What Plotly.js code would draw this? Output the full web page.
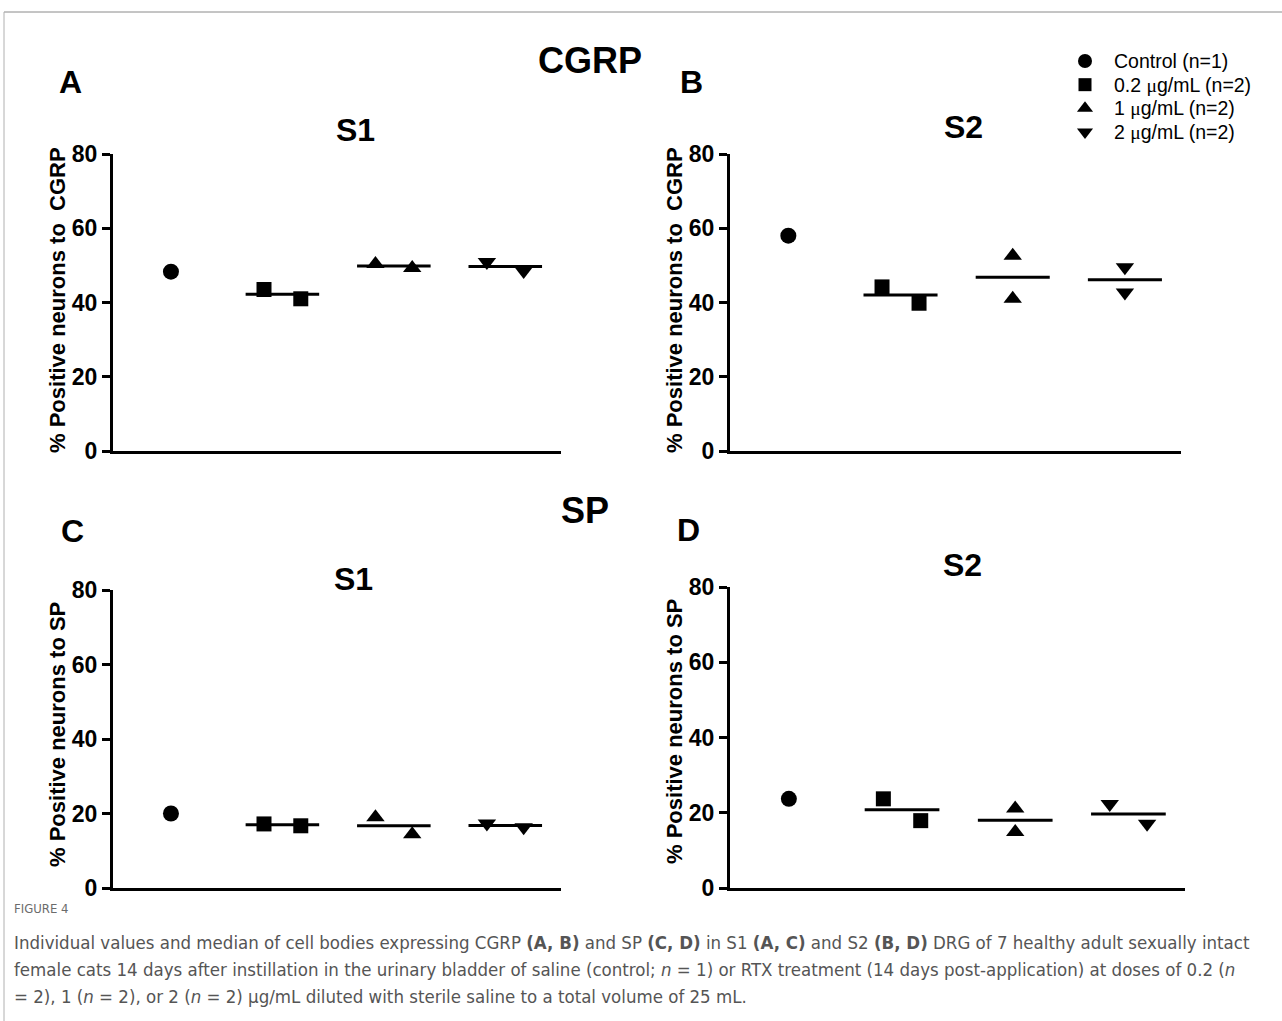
<!DOCTYPE html>
<html>
<head>
<meta charset="utf-8">
<script src="https://cdn.plot.ly/plotly-3.0.1.min.js"></script>
<style>
html,body{margin:0;padding:0;background:#fff;}
#chart{width:1282px;height:1021px;}
</style>
</head>
<body>
<div id="chart"></div>
<script>
// ---- data ----
const groupNames = ['Control (n=1)', '0.2 μg/mL (n=2)', '1 μg/mL (n=2)', '2 μg/mL (n=2)'];
const groupSymbols = ['circle', 'square', 'triangle-up', 'triangle-down'];
const yTicks = [0, 20, 40, 60, 80];
// values per group for each panel
const cgrpS1 = [[48.3], [43.5, 41.0], [50.4, 49.3], [50.9, 48.5]];
const cgrpS2 = [[58.0], [44.2, 39.8], [52.6, 41.0], [49.5, 42.7]];
const spS1   = [[20.0], [17.2, 16.7], [19.0, 14.4], [17.3, 16.3]];
const spS2   = [[23.7], [23.7, 17.9], [21.1, 14.9], [22.3, 17.1]];

const W = 1282, H = 1021;
const px = x => x / W;
const py = y => 1 - y / H;
const FONT = 'Liberation Sans, Arial, sans-serif';
const MU = '<span style="font-family:Liberation Serif">μ</span>';
const markerSizes = [16, 15, 16, 16];

const panels = [
  {vals: cgrpS1, xa: 'x',  ya: 'y',  dx: [113, 561], dy: [451, 154]},
  {vals: cgrpS2, xa: 'x2', ya: 'y2', dx: [730, 1181], dy: [451, 154]},
  {vals: spS1,   xa: 'x3', ya: 'y3', dx: [113, 561], dy: [888, 590]},
  {vals: spS2,   xa: 'x4', ya: 'y4', dx: [730, 1185], dy: [888, 587]}
];

function median(a) {
  const s = a.slice().sort((p, q) => p - q);
  const m = Math.floor(s.length / 2);
  return s.length % 2 ? s[m] : (s[m - 1] + s[m]) / 2;
}
// points that would overlap vertically are spread sideways (scatter-dot style)
function offsets(v) {
  if (v.length < 2) return [0];
  return Math.abs(v[0] - v[1]) < 6 ? [-0.165, 0.165] : [0, 0];
}

const traces = [];
panels.forEach((p, pi) => {
  p.vals.forEach((v, gi) => {
    const off = offsets(v);
    traces.push({
      type: 'scatter', mode: 'markers',
      x: v.map((_, k) => gi + off[k]), y: v,
      xaxis: p.xa, yaxis: p.ya, showlegend: false,
      marker: {symbol: groupSymbols[gi], color: '#000', size: markerSizes[gi], line: {width: 0}},
      hoverinfo: 'y', cliponaxis: false
    });
    if (v.length > 1) {
      const m = median(v);
      traces.push({
        type: 'scatter', mode: 'lines',
        x: [gi - 0.33, gi + 0.33], y: [m, m],
        xaxis: p.xa, yaxis: p.ya, showlegend: false,
        line: {color: '#000', width: 3}, hoverinfo: 'skip'
      });
    }
  });
});
// key (legend) symbols on a hidden axis pair
groupNames.forEach((n, i) => traces.push({
  type: 'scatter', mode: 'markers',
  x: [0], y: [i],
  xaxis: 'x5', yaxis: 'y5', showlegend: false, hoverinfo: 'skip', cliponaxis: false,
  marker: {symbol: groupSymbols[i], color: '#000', opacity: 1, size: i === 1 ? 13 : 14, line: {width: 0}}
}));

const layout = {
  width: W, height: H,
  margin: {l: 0, r: 0, t: 0, b: 0},
  paper_bgcolor: '#fff', plot_bgcolor: 'rgba(0,0,0,0)',
  font: {family: FONT, color: '#000'},
  showlegend: false,
  annotations: [],
  xaxis5: {domain: [px(1085), px(1185)], range: [0, 1], visible: false, fixedrange: true, anchor: 'y5'},
  yaxis5: {domain: [py(132), py(61)], range: [3, 0], visible: false, fixedrange: true, anchor: 'x5'},
  shapes: [
    {type: 'line', xref: 'paper', yref: 'paper', x0: px(4), x1: 1, y0: py(12), y1: py(12), line: {color: '#8a8a8a', width: 1}},
    {type: 'line', xref: 'paper', yref: 'paper', x0: px(4), x1: px(4), y0: py(12), y1: 0, line: {color: '#b0b0b0', width: 1}}
  ]
};

panels.forEach((p, pi) => {
  const s = pi === 0 ? '' : String(pi + 1);
  layout['xaxis' + s] = {
    domain: [px(p.dx[0]), px(p.dx[1])], anchor: 'y' + s,
    range: [-0.52, 3.5], showline: true, linewidth: 3, linecolor: '#000',
    showticklabels: false, ticks: '', showgrid: false, zeroline: false, fixedrange: true
  };
  layout['yaxis' + s] = {
    domain: [py(p.dy[0]), py(p.dy[1])], anchor: 'x' + s,
    range: [0, 80], tickvals: yTicks, ticktext: yTicks.map(String),
    ticks: 'outside', ticklen: 8, tickwidth: 3, tickcolor: '#000',
    showline: true, linewidth: 3, linecolor: '#000',
    showgrid: false, zeroline: false, fixedrange: true,
    tickfont: {family: FONT, size: 23, weight: 'bold', color: '#000'}
  };
});

function ann(text, x, y, size, opts) {
  layout.annotations.push(Object.assign({
    text: text, xref: 'paper', yref: 'paper', x: px(x), y: py(y),
    xanchor: 'center', yanchor: 'middle', showarrow: false,
    font: {family: FONT, size: size, weight: 'bold', color: '#000'}
  }, opts || {}));
}
// key labels
groupNames.forEach((n, i) => ann(n.replace('μ', MU), 1112, 61 + 23.7 * i, 19.5,
  {xanchor: 'left', font: {family: FONT, size: 19.5, color: '#000'}}));
// main titles
ann('CGRP', 590, 61, 36);
ann('SP', 585, 510, 36);
// panel letters
ann('A', 70, 82, 32);
ann('B', 691, 82, 32);
ann('C', 72, 531, 32);
ann('D', 688, 530, 32);
// subplot titles
ann('S1', 355, 130, 32);
ann('S2', 963, 127, 32);
ann('S1', 353, 579, 32);
ann('S2', 962, 565, 32);
// y-axis titles
ann('% Positive neurons to\u00a0\u00a0CGRP', 57, 300, 22, {textangle: -90});
ann('% Positive neurons to\u00a0\u00a0CGRP', 674, 300, 22, {textangle: -90});
ann('% Positive neurons to SP', 57, 735, 22, {textangle: -90});
ann('% Positive neurons to SP', 674, 732, 22, {textangle: -90});

// caption
const CAP = 'Liberation Sans Narrow, DejaVu Sans Condensed, Arial Narrow, sans-serif';
ann('FIGURE 4', 12, 908, 13, {xanchor: 'left', font: {family: CAP, size: 13, color: '#6b6b6b'}});
const capLines = [
  'Individual values and median of cell bodies expressing CGRP <b>(A, B)</b> and SP <b>(C, D)</b> in S1 <b>(A, C)</b> and S2 <b>(B, D)</b> DRG of 7 healthy adult sexually intact',
  'female cats 14 days after instillation in the urinary bladder of saline (control; <i>n</i> = 1) or RTX treatment (14 days post-application) at doses of 0.2 (<i>n</i>',
  '= 2), 1 (<i>n</i> = 2), or 2 (<i>n</i> = 2) μg/mL diluted with sterile saline to a total volume of 25 mL.'
];
capLines.forEach((t, i) => ann(t, 12, 942 + 27 * i, 18.5, {xanchor: 'left', font: {family: CAP, size: 18.5, color: '#555'}}));

Plotly.newPlot('chart', traces, layout, {staticPlot: true, displayModeBar: false});
</script>
</body>
</html>
